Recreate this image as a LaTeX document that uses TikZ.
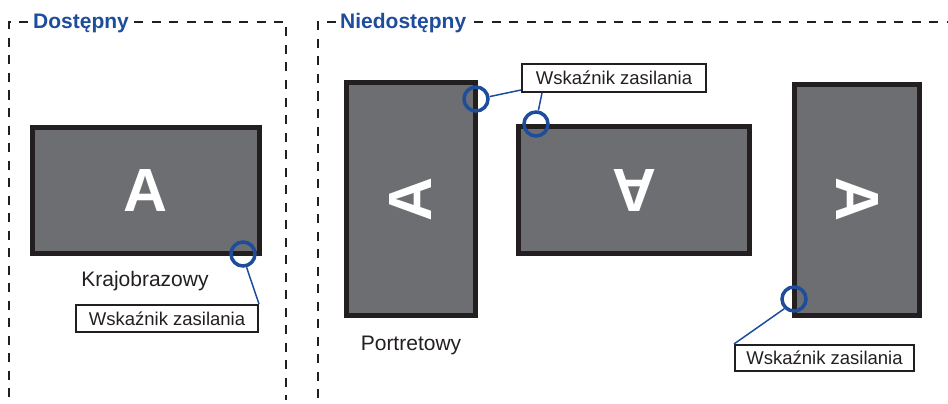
\documentclass[tikz,border=0pt]{standalone}
\usepackage{fontspec}
\setmainfont{Liberation Sans}
\definecolor{frame}{HTML}{231F20}
\definecolor{screen}{HTML}{6D6E71}
\definecolor{ledblue}{HTML}{1E4D9B}
\begin{document}
\begin{tikzpicture}[x=1pt,y=-1pt,
  monitor/.style={draw=frame,line width=5pt,fill=screen,inner sep=0pt},
  bigA/.style={text=white,font=\fontsize{61}{61}\selectfont\bfseries,inner sep=0pt},
  led/.style={circle,draw=ledblue,line width=3.5pt,minimum size=24pt,inner sep=0pt},
  lbl/.style={draw=frame,line width=2pt,fill=white,inner sep=0pt,font=\fontsize{18.5}{20}\selectfont,text=frame},
  caption/.style={font=\fontsize{21}{24}\selectfont,text=frame,inner sep=0pt},
  title/.style={font=\fontsize{21}{24}\selectfont\bfseries,text=ledblue,inner sep=0pt},
  frameline/.style={draw=frame,line width=2pt,dash pattern=on 9pt off 8.5pt},
  leader/.style={draw=ledblue,line width=1.5pt}]
\useasboundingbox (0,0) rectangle (948,404);
% dashed frames
\draw[frameline] (28,22) -- (9,22) -- (9,400);
\draw[frameline] (134,22) -- (286,22) -- (286,400);
\draw[frameline] (336,22) -- (318,22) -- (318,400);
\draw[frameline] (474,22) -- (948,22);
\node[title,anchor=base west] (t1) at (33,29) {Dostępny};
\node[title,anchor=base west] (t2) at (340,29) {Niedostępny};
% monitors
\node[monitor,minimum width=227pt,minimum height=126pt] (m1) at (146,190.5) {};
\node[monitor,minimum width=129pt,minimum height=233pt] (m2) at (411,199) {};
\node[monitor,minimum width=231pt,minimum height=127pt] (m3) at (634,190) {};
\node[monitor,minimum width=125pt,minimum height=231pt] (m4) at (857,200) {};
\node[bigA] (a1) at (m1.center) {A};
\node[bigA,rotate=90] (a2) at (m2.center) {A};
\node[bigA,rotate=180] (a3) at (m3.center) {A};
\node[bigA,rotate=-90] (a4) at (m4.center) {A};
% captions
\node[caption] (k) at (145,281) {Krajobrazowy};
\node[caption] (p) at (411,345) {Portretowy};
% label boxes
\node[lbl,minimum width=182pt,minimum height=27pt] (l1) at (167,318.5) {Wskaźnik zasilania};
\node[lbl,minimum width=184pt,minimum height=28pt] (l2) at (614,78) {Wskaźnik zasilania};
\node[lbl,minimum width=179pt,minimum height=26pt] (l3) at (824.5,358) {Wskaźnik zasilania};
% indicators
\node[led] (c1) at (243,254) {};
\node[led] (c2) at (476,99) {};
\node[led] (c3) at (536,124) {};
\node[led] (c4) at (794,299) {};
% leaders
\draw[leader] (c1.-75) -- (l1.north east);
\draw[leader] (c2.10) -- ([yshift=3pt]l2.south west);
\draw[leader] (c3.80) -- ([xshift=21pt]l2.south west);
\draw[leader] (c4.225) -- (l3.north west);
\end{tikzpicture}
\end{document}
